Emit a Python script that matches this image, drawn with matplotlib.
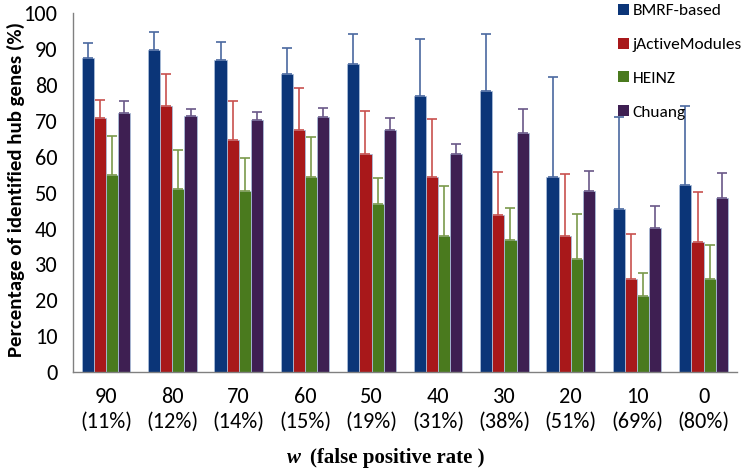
import numpy as np
import matplotlib
matplotlib.use("Agg")
import matplotlib.pyplot as plt
from matplotlib import font_manager
from matplotlib.patches import Patch

# data
cats = ["90\n(11%)", "80\n(12%)", "70\n(14%)", "60\n(15%)", "50\n(19%)",
        "40\n(31%)", "30\n(38%)", "20\n(51%)", "10\n(69%)", "0\n(80%)"]
series = ["BMRF-based", "jActiveModules", "HEINZ", "Chuang"]
bmrf = [87.4, 89.8, 86.9, 83.1, 86.0, 76.9, 78.4, 54.5, 45.4, 52.1]
bmrf_top = [91.8, 94.9, 92.0, 90.2, 94.3, 92.7, 94.1, 82.3, 71.0, 74.2]
jam = [70.9, 74.2, 64.7, 67.4, 60.7, 54.3, 43.8, 37.9, 25.9, 36.2]
jam_top = [75.8, 83.0, 75.5, 79.3, 72.9, 70.6, 55.8, 55.3, 38.5, 50.3]
heinz = [54.9, 51.0, 50.6, 54.5, 46.8, 37.9, 36.8, 31.5, 21.3, 25.9]
heinz_top = [65.8, 62.0, 59.7, 65.6, 54.0, 51.9, 45.7, 44.0, 27.6, 35.5]
chuang = [72.3, 71.5, 70.3, 71.1, 67.5, 60.7, 66.5, 50.5, 40.2, 48.4]
chuang_top = [75.5, 73.4, 72.5, 73.7, 70.8, 63.5, 73.4, 56.1, 46.3, 55.6]

colors = ["#0b3578", "#a8181a", "#4a7a1e", "#3e1f52"]
err_colors = ["#4a68a0", "#c8504e", "#7a9a4c", "#6a5888"]

names = {f.name for f in font_manager.fontManager.ttflist}
main_font = "DejaVu Sans"
for cand in ["Carlito", "Liberation Sans Narrow", "Lato"]:
    if cand in names:
        main_font = cand
        break
plt.rcParams['font.family'] = [main_font, 'DejaVu Sans']

fig = plt.figure(figsize=(7.42, 4.74), dpi=100)
ax = fig.add_axes([0.098, 0.215, 0.895, 0.757])

x = np.arange(len(cats))
w = 0.183
vals = [bmrf, jam, heinz, chuang]
tops = [bmrf_top, jam_top, heinz_top, chuang_top]
for i in range(4):
    v = np.array(vals[i])
    up = np.array(tops[i]) - v
    ax.bar(x + (i - 1.5) * w, v, w, color=colors[i], edgecolor="#a9bcd8", linewidth=0.6,
           yerr=[np.zeros_like(up), up], capsize=3.5,
           error_kw=dict(ecolor=err_colors[i], elinewidth=1.2, capthick=1.2))

ax.set_xlim(-0.5, 9.5)
ax.set_ylim(0, 100)
ax.set_yticks(np.arange(0, 101, 10))
ax.set_xticks(x)
ax.set_xticklabels(cats, linespacing=1.25)
ax.tick_params(axis="y", length=0, pad=11, labelsize=16)
ax.tick_params(axis="x", length=0, pad=11, labelsize=16)
for s in ["top", "right"]:
    ax.spines[s].set_visible(False)
for s in ["left", "bottom"]:
    ax.spines[s].set_color("#808080")
    ax.spines[s].set_linewidth(1.0)

fig.text(0.021, 0.6, "Percentage of identified hub genes (%)", rotation=90,
         ha="center", va="center", fontsize=15, fontweight="bold")

fig.text(0.405, 0.012, "w", fontsize=15, fontweight="bold", style="italic",
         family="Liberation Serif", ha="right", va="bottom")
fig.text(0.418, 0.012, "(false positive rate )", fontsize=15, fontweight="bold",
         family="Liberation Serif", ha="left", va="bottom")

handles = [Patch(facecolor=c, edgecolor="none") for c in colors]
fig.legend(handles, series, loc="upper left", bbox_to_anchor=(0.833, 0.992),
           frameon=False, fontsize=12.5, handlelength=0.6, handleheight=0.6,
           handletextpad=0.25, labelspacing=1.1, borderaxespad=0, borderpad=0)

fig.savefig("out.png", dpi=100)
